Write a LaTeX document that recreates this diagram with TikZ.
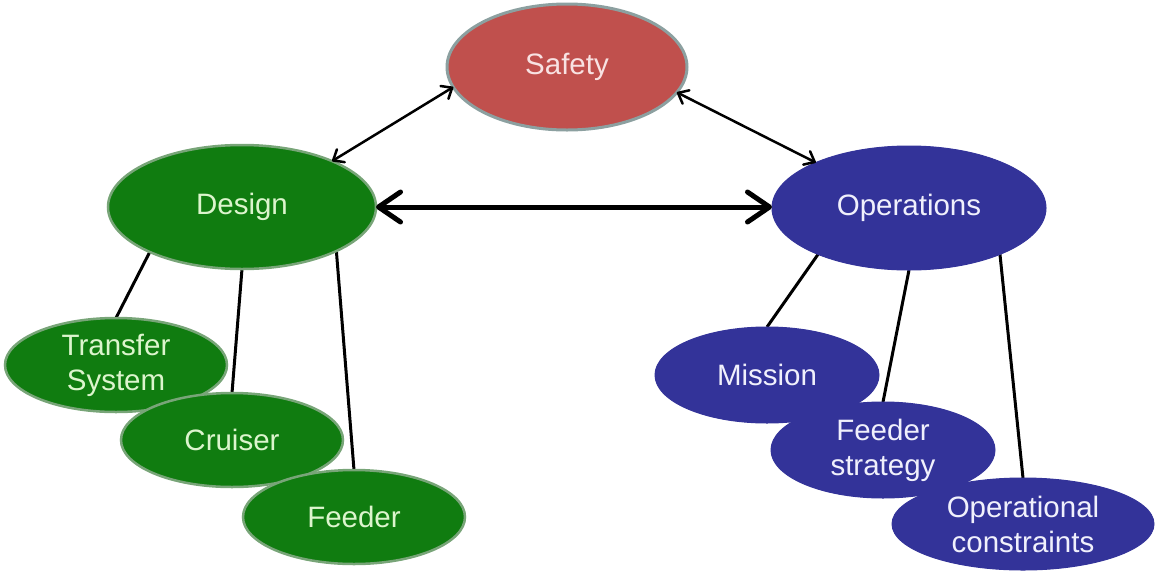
\documentclass[tikz,border=0pt]{standalone}
\usepackage{fontspec}
\setmainfont{Liberation Sans}
\usetikzlibrary{shapes.geometric,arrows.meta}
\pgfdeclarelayer{background}
\pgfsetlayers{background,main}
\definecolor{safetyred}{RGB}{192,80,77}
\definecolor{safetyedge}{RGB}{140,160,160}
\definecolor{safetytext}{RGB}{248,226,226}
\definecolor{dgreen}{RGB}{16,124,16}
\definecolor{gedge}{RGB}{120,165,120}
\definecolor{gtext}{RGB}{220,245,205}
\definecolor{oblue}{RGB}{51,51,153}
\definecolor{otext}{RGB}{240,240,252}
\tikzset{
  bubble/.style={ellipse, inner sep=0pt, outer sep=0pt, align=center,
    font=\fontsize{29.5}{35}\selectfont},
  redbub/.style={bubble, fill=safetyred, draw=safetyedge, line width=3pt, text=safetytext},
  greenbub/.style={bubble, fill=dgreen, draw=gedge, line width=2.5pt, text=gtext},
  bluebub/.style={bubble, fill=oblue, draw=oblue, line width=1pt, text=otext},
  thinarrow/.style={black, line width=2.5pt, {Straight Barb[length=9pt,width=15pt,round]}-{Straight Barb[length=9pt,width=15pt,round]}},
  bigarrow/.style={black, line width=5pt, {Straight Barb[length=22pt,width=30pt,round]}-{Straight Barb[length=22pt,width=30pt,round]}},
  link/.style={black, line width=3pt}
}
\begin{document}
\begin{tikzpicture}[x=1pt,y=-1pt]
\useasboundingbox (0,0) rectangle (1156,571);
\node[redbub, minimum width=240pt, minimum height=126pt] (safety) at (567,67) {Safety};
\node[greenbub, minimum width=268pt, minimum height=124pt] (design) at (242,207) {Design};
\node[bluebub, minimum width=274pt, minimum height=124pt] (ops) at (909,208) {Operations};

\node[greenbub, minimum width=222pt, minimum height=94pt] (transfer) at (116,365) {Transfer\\System};
\node[greenbub, minimum width=222pt, minimum height=94pt] (cruiser) at (232,440) {Cruiser};
\node[greenbub, minimum width=222pt, minimum height=94pt] (feeder) at (354,517) {Feeder};

\node[bluebub, minimum width=224pt, minimum height=96pt] (mission) at (767,375) {Mission};
\node[bluebub, minimum width=224pt, minimum height=96pt] (fstrat) at (883,450) {Feeder\\strategy};
\node[bluebub, minimum width=262pt, minimum height=92pt] (opcon) at (1023,524) {Operational\\constraints};

\begin{pgfonlayer}{background}
\draw[link] (design.206) -- (transfer.north);
\draw[link] (design.south) -- (cruiser.north);
\draw[link] (design.335) -- (feeder.north);
\draw[link] (ops.207) -- (mission.north);
\draw[link] (ops.south) -- (fstrat.north);
\draw[link] (ops.333) -- (opcon.north);
\end{pgfonlayer}

\draw[thinarrow] (safety.190) -- (design.27);
\draw[thinarrow] (safety.347) -- (ops.154);
\draw[bigarrow] (design.east) -- (design.east -| ops.west);
\end{tikzpicture}
\end{document}
